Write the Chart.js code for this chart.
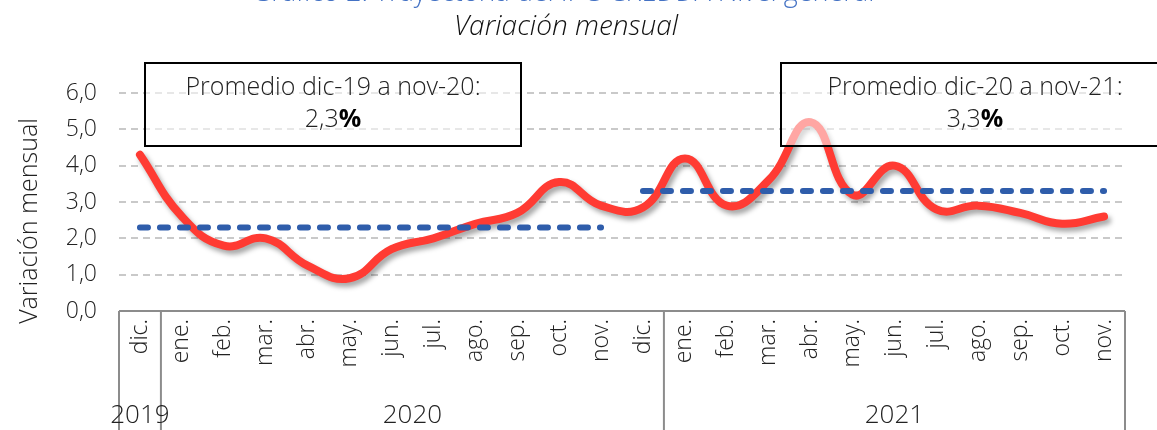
<!DOCTYPE html>
<html>
<head>
<meta charset="utf-8">
<script src="https://cdn.jsdelivr.net/npm/chart.js@4.4.1/dist/chart.umd.min.js"></script>
<style>
  html, body { margin: 0; padding: 0; background: #fff; }
  #wrap { width: 1157px; height: 430px; position: relative; }
</style>
</head>
<body>
<div id="wrap"><canvas id="grafico"></canvas></div>
<script>
// Datos del gráfico
const meses = ['dic.', 'ene.', 'feb.', 'mar.', 'abr.', 'may.', 'jun.', 'jul.', 'ago.', 'sep.', 'oct.', 'nov.',
               'dic.', 'ene.', 'feb.', 'mar.', 'abr.', 'may.', 'jun.', 'jul.', 'ago.', 'sep.', 'oct.', 'nov.'];
const variacion = [4.3, 2.6, 1.8, 2.0, 1.25, 0.9, 1.7, 2.0, 2.4, 2.7, 3.55, 2.9,
                   2.85, 4.2, 2.9, 3.6, 5.2, 3.2, 4.0, 2.8, 2.9, 2.7, 2.4, 2.6];
const promedio1 = [2.3, 2.3, 2.3, 2.3, 2.3, 2.3, 2.3, 2.3, 2.3, 2.3, 2.3, 2.3,
                   null, null, null, null, null, null, null, null, null, null, null, null];
const promedio2 = [null, null, null, null, null, null, null, null, null, null, null, null,
                   3.3, 3.3, 3.3, 3.3, 3.3, 3.3, 3.3, 3.3, 3.3, 3.3, 3.3, 3.3];
const anios = [
  { label: '2019', desde: 0, hasta: 0 },
  { label: '2020', desde: 1, hasta: 12 },
  { label: '2021', desde: 13, hasta: 23 }
];
const yTicks = [0, 1, 2, 3, 4, 5, 6];

const FUENTE = "'Open Sans', 'DejaVu Sans', sans-serif";

// Sombra de la línea roja
const sombraLinea = {
  id: 'sombraLinea',
  beforeDatasetDraw(chart, args) {
    if (args.index !== 0) return;
    const ctx = chart.ctx;
    ctx.save();
    ctx.shadowColor = 'rgba(0,0,0,0.35)';
    ctx.shadowBlur = 5;
    ctx.shadowOffsetX = 3;
    ctx.shadowOffsetY = 4;
  },
  afterDatasetDraw(chart, args) {
    if (args.index !== 0) return;
    chart.ctx.restore();
  }
};

// Títulos, cajas de promedio y eje de años
const decoraciones = {
  id: 'decoraciones',
  afterDraw(chart) {
    const ctx = chart.ctx;
    const x = chart.scales.x;
    const area = chart.chartArea;
    ctx.save();

    // Título
    ctx.textAlign = 'center';
    ctx.textBaseline = 'middle';
    ctx.fillStyle = '#4472C4';
    ctx.font = '300 27px ' + FUENTE;
    ctx.fillText('Gráfico 2. Trayectoria del IPC-CREDDA Nivel general', 563, -7);
    ctx.fillStyle = '#111';
    ctx.font = 'italic 300 28px ' + FUENTE;
    ctx.fillText('Variación mensual', 566, 27);

    // Título eje Y
    ctx.save();
    ctx.translate(30, 221);
    ctx.rotate(-Math.PI / 2);
    ctx.font = '300 25px ' + FUENTE;
    ctx.fillStyle = '#222';
    ctx.fillText('Variación mensual', 0, 0);
    ctx.restore();

    // Cajas de promedio
    const cajas = [
      { x0: 145, x1: 521, t1: 'Promedio dic-19 a nov-20:', v: '2,3' },
      { x0: 781, x1: 1160, t1: 'Promedio dic-20 a nov-21:', v: '3,3' }
    ];
    cajas.forEach(c => {
      ctx.fillStyle = 'rgba(255,255,255,0.55)';
      ctx.fillRect(c.x0, 63, c.x1 - c.x0, 83);
      ctx.strokeStyle = '#000';
      ctx.lineWidth = 2;
      ctx.strokeRect(c.x0, 63, c.x1 - c.x0, 83);
      const cx = c.x1 > 1157 ? 975 : (c.x0 + c.x1) / 2;
      ctx.fillStyle = '#222';
      ctx.textAlign = 'center';
      ctx.font = '300 25px ' + FUENTE;
      ctx.fillText(c.t1, cx, 88);
      const w1 = ctx.measureText(c.v).width;
      ctx.font = 'bold 25px ' + FUENTE;
      const w2 = ctx.measureText('%').width;
      const inicio = cx - (w1 + w2) / 2;
      ctx.textAlign = 'left';
      ctx.font = '300 25px ' + FUENTE;
      ctx.fillText(c.v, inicio, 120);
      ctx.font = 'bold 25px ' + FUENTE;
      ctx.fillStyle = '#000';
      ctx.fillText('%', inicio + w1, 120);
    });

    // Caja del eje X con separación por años
    const paso = x.getPixelForTick(1) - x.getPixelForTick(0);
    ctx.strokeStyle = '#8c8c8c';
    ctx.lineWidth = 2;
    ctx.beginPath();
    ctx.moveTo(area.left, area.bottom);
    ctx.lineTo(area.right, area.bottom);
    ctx.moveTo(area.left, area.bottom);
    ctx.lineTo(area.left, chart.height);
    ctx.moveTo(area.right, area.bottom);
    ctx.lineTo(area.right, chart.height);
    anios.slice(1).forEach(a => {
      const px = x.getPixelForTick(a.desde) - paso / 2;
      ctx.moveTo(px, area.bottom);
      ctx.lineTo(px, chart.height);
    });
    ctx.stroke();

    ctx.fillStyle = '#222';
    ctx.textAlign = 'center';
    ctx.font = '300 26px ' + FUENTE;
    anios.forEach(a => {
      const cx = (x.getPixelForTick(a.desde) + x.getPixelForTick(a.hasta)) / 2;
      ctx.fillText(a.label, cx, 416);
    });
    ctx.restore();
  }
};

const ctx = document.getElementById('grafico').getContext('2d');
new Chart(ctx, {
  type: 'line',
  data: {
    labels: meses,
    datasets: [{
      label: 'Variación mensual',
      data: variacion,
      borderColor: '#FF3B33',
      borderWidth: 8,
      tension: 0.45,
      pointRadius: 0,
      fill: false,
      borderCapStyle: 'round',
      order: 2
    }, {
      label: 'Promedio 1',
      data: promedio1,
      borderColor: '#2F5DAB',
      borderWidth: 6,
      borderDash: [8, 12],
      borderCapStyle: 'round',
      pointRadius: 0,
      spanGaps: false,
      order: 1
    }, {
      label: 'Promedio 2',
      data: promedio2,
      borderColor: '#2F5DAB',
      borderWidth: 6,
      borderDash: [8, 12],
      borderCapStyle: 'round',
      pointRadius: 0,
      spanGaps: false,
      order: 1
    }]
  },
  options: {
    responsive: true,
    maintainAspectRatio: false,
    animation: false,
    layout: { padding: { left: 0, right: 32, top: 93, bottom: 0 } },
    plugins: {
      legend: { display: false },
      tooltip: { enabled: false }
    },
    scales: {
      x: {
        offset: true,
        grid: { display: false, drawTicks: false },
        border: { display: false },
        ticks: {
          autoSkip: false,
          maxRotation: 90,
          minRotation: 90,
          padding: 8,
          color: '#222',
          font: { family: FUENTE, size: 23, weight: '300' }
        },
        afterFit(scale) { scale.height = 119; }
      },
      y: {
        min: 0,
        max: 6,
        afterBuildTicks(scale) { scale.ticks = yTicks.map(v => ({ value: v })); },
        grid: {
          drawTicks: false,
          lineWidth: 2,
          color: c => c.tick && c.tick.value === 0 ? 'rgba(0,0,0,0)' : '#c9c9c9'
        },
        border: { display: false, dash: [7, 5] },
        ticks: {
          padding: 22,
          color: '#222',
          font: { family: FUENTE, size: 23, weight: '300' },
          callback: v => v.toFixed(1).replace('.', ',')
        },
        afterFit(scale) { scale.width = 119; }
      }
    }
  },
  plugins: [sombraLinea, decoraciones]
});
</script>
</body>
</html>
